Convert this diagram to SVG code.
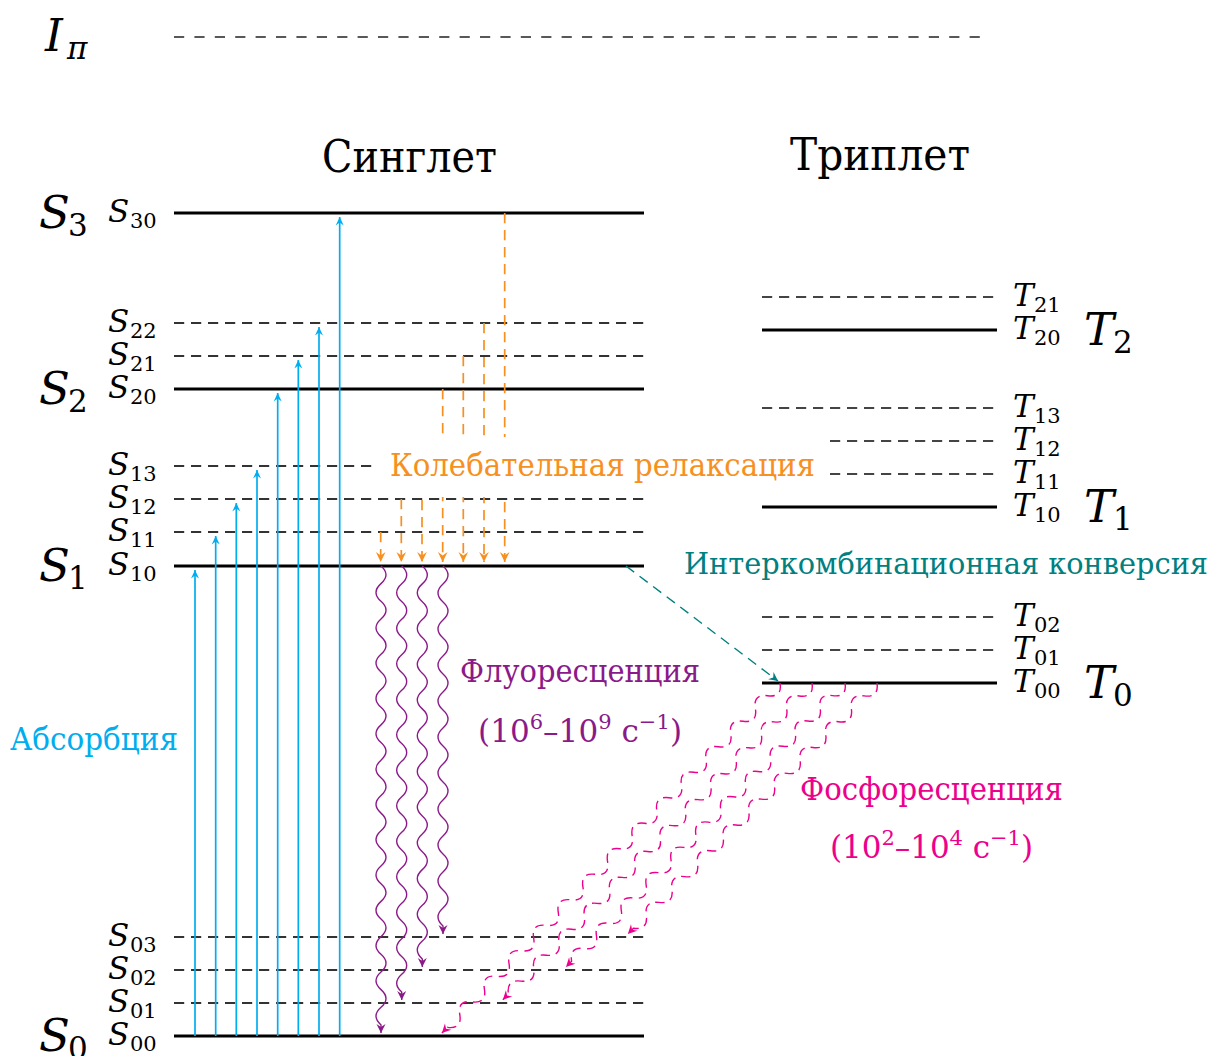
<svg xmlns="http://www.w3.org/2000/svg" width="1214" height="1056" viewBox="0 0 1214 1056" font-family="'DejaVu Serif', serif">
<style>
.tx{font-family:"DejaVu Serif",serif;font-size:31px}
.hd{font-family:"DejaVu Serif",serif;font-size:44px}
.m{font-family:"DejaVu Serif",serif;font-style:italic;font-size:31px}
.sb{font-family:"DejaVu Serif",serif;font-size:21px}
.bg{font-family:"DejaVu Serif",serif;font-style:italic;font-size:45px}
.bs{font-family:"DejaVu Serif",serif;font-size:31px}
.lvl{stroke:#000;stroke-width:3;fill:none}
.sd{stroke:#333;stroke-width:2;stroke-dasharray:10.2 6.8;fill:none}
.td{stroke:#444;stroke-width:1.8;stroke-dasharray:10.2 6.8;fill:none}
.ip{stroke:#222;stroke-width:1.6;stroke-dasharray:10.2 10.2;fill:none}
.cy{stroke:#00AEEF;stroke-width:1.7;fill:none;marker-end:url(#hc)}
.or{stroke:#F7901E;stroke-width:1.7;fill:none;stroke-dasharray:10.2 6.8;marker-end:url(#ho)}
.pu{stroke:#8B1A89;stroke-width:1.4;fill:none;marker-end:url(#hp)}
.pk{stroke:#EC008C;stroke-width:1.4;fill:none;stroke-dasharray:9 6;marker-end:url(#hk)}
.tl{stroke:#008080;stroke-width:1.4;fill:none;stroke-dasharray:10.2 6.8;marker-end:url(#ht)}
</style>
<defs>
<marker id="hc" markerUnits="userSpaceOnUse" orient="auto" refX="0" refY="0" markerWidth="12" markerHeight="12" overflow="visible"><path d="M0,0 L-8.5,-4 L-5.5,0 L-8.5,4 Z" fill="#00AEEF"/></marker>
<marker id="ho" markerUnits="userSpaceOnUse" orient="auto" refX="0" refY="0" markerWidth="12" markerHeight="12" overflow="visible"><path d="M0,0 L-10,-4.8 L-6.5,0 L-10,4.8 Z" fill="#F7901E"/></marker>
<marker id="hp" markerUnits="userSpaceOnUse" orient="auto" refX="0" refY="0" markerWidth="12" markerHeight="12" overflow="visible"><path d="M0,0 L-9,-4.5 L-6,0 L-9,4.5 Z" fill="#8B1A89"/></marker>
<marker id="hk" markerUnits="userSpaceOnUse" orient="auto" refX="0" refY="0" markerWidth="12" markerHeight="12" overflow="visible"><path d="M0,0 L-9,-4.5 L-6,0 L-9,4.5 Z" fill="#EC008C"/></marker>
<marker id="ht" markerUnits="userSpaceOnUse" orient="auto" refX="0" refY="0" markerWidth="12" markerHeight="12" overflow="visible"><path d="M0,0 L-9,-4.5 L-6,0 L-9,4.5 Z" fill="#008080"/></marker>
</defs>
<rect width="1214" height="1056" fill="#fff"/>

<g id="Ipi">
<line class="ip" x1="174" y1="37" x2="990" y2="37"/>
<text class="bg" x="45" y="51">I</text><text class="bs" x="67" y="59" font-style="italic">π</text>
</g>

<g id="headers">
<text class="hd" x="322" y="172" textLength="175" lengthAdjust="spacingAndGlyphs">Синглет</text>
<text class="hd" x="790" y="170" textLength="180" lengthAdjust="spacingAndGlyphs">Триплет</text>
</g>

<g id="S30"><line class="lvl" x1="174" y1="213" x2="644" y2="213"/><text class="m" x="108" y="222">S</text><text class="sb" x="130" y="228">30</text><text class="bg" x="39" y="228">S</text><text class="bs" x="68" y="236">3</text></g>
<g id="S22"><line class="sd" x1="174" y1="323" x2="644" y2="323"/><text class="m" x="108" y="332">S</text><text class="sb" x="130" y="338">22</text></g>
<g id="S21"><line class="sd" x1="174" y1="356" x2="644" y2="356"/><text class="m" x="108" y="365">S</text><text class="sb" x="130" y="371">21</text></g>
<g id="S20"><line class="lvl" x1="174" y1="389" x2="644" y2="389"/><text class="m" x="108" y="398">S</text><text class="sb" x="130" y="404">20</text><text class="bg" x="39" y="404">S</text><text class="bs" x="68" y="412">2</text></g>
<g id="S13"><line class="sd" x1="174" y1="466" x2="644" y2="466"/><text class="m" x="108" y="475">S</text><text class="sb" x="130" y="481">13</text></g>
<g id="S12"><line class="sd" x1="174" y1="499" x2="644" y2="499"/><text class="m" x="108" y="508">S</text><text class="sb" x="130" y="514">12</text></g>
<g id="S11"><line class="sd" x1="174" y1="532" x2="644" y2="532"/><text class="m" x="108" y="541">S</text><text class="sb" x="130" y="547">11</text></g>
<g id="S10"><line class="lvl" x1="174" y1="566" x2="644" y2="566"/><text class="m" x="108" y="575">S</text><text class="sb" x="130" y="581">10</text><text class="bg" x="39" y="581">S</text><text class="bs" x="68" y="589">1</text></g>
<g id="S03"><line class="sd" x1="174" y1="937" x2="644" y2="937"/><text class="m" x="108" y="946">S</text><text class="sb" x="130" y="952">03</text></g>
<g id="S02"><line class="sd" x1="174" y1="970" x2="644" y2="970"/><text class="m" x="108" y="979">S</text><text class="sb" x="130" y="985">02</text></g>
<g id="S01"><line class="sd" x1="174" y1="1003" x2="644" y2="1003"/><text class="m" x="108" y="1012">S</text><text class="sb" x="130" y="1018">01</text></g>
<g id="S00"><line class="lvl" x1="174" y1="1036" x2="644" y2="1036"/><text class="m" x="108" y="1045">S</text><text class="sb" x="130" y="1051">00</text><text class="bg" x="39" y="1051">S</text><text class="bs" x="68" y="1059">0</text></g>

<g id="T21"><line class="td" x1="762" y1="297" x2="997" y2="297"/><text class="m" x="1013" y="306">T</text><text class="sb" x="1034" y="312">21</text></g>
<g id="T20"><line class="lvl" x1="762" y1="330" x2="997" y2="330"/><text class="m" x="1013" y="339">T</text><text class="sb" x="1034" y="345">20</text><text class="bg" x="1084" y="345">T</text><text class="bs" x="1113" y="353">2</text></g>
<g id="T13"><line class="td" x1="762" y1="408" x2="997" y2="408"/><text class="m" x="1013" y="417">T</text><text class="sb" x="1034" y="423">13</text></g>
<g id="T12"><line class="td" x1="830" y1="441" x2="997" y2="441"/><text class="m" x="1013" y="450">T</text><text class="sb" x="1034" y="456">12</text></g>
<g id="T11"><line class="td" x1="830" y1="474" x2="997" y2="474"/><text class="m" x="1013" y="483">T</text><text class="sb" x="1034" y="489">11</text></g>
<g id="T10"><line class="lvl" x1="762" y1="507" x2="997" y2="507"/><text class="m" x="1013" y="516">T</text><text class="sb" x="1034" y="522">10</text><text class="bg" x="1084" y="522">T</text><text class="bs" x="1113" y="530">1</text></g>
<g id="T02"><line class="td" x1="762" y1="617" x2="997" y2="617"/><text class="m" x="1013" y="626">T</text><text class="sb" x="1034" y="632">02</text></g>
<g id="T01"><line class="td" x1="762" y1="650" x2="997" y2="650"/><text class="m" x="1013" y="659">T</text><text class="sb" x="1034" y="665">01</text></g>
<g id="T00"><line class="lvl" x1="762" y1="683" x2="997" y2="683"/><text class="m" x="1013" y="692">T</text><text class="sb" x="1034" y="698">00</text><text class="bg" x="1084" y="698">T</text><text class="bs" x="1113" y="706">0</text></g>

<g id="connectors">
<line class="cy" x1="195" y1="1036" x2="195" y2="570"/>
<line class="cy" x1="215.7" y1="1036" x2="215.7" y2="536"/>
<line class="cy" x1="236.3" y1="1036" x2="236.3" y2="503"/>
<line class="cy" x1="257" y1="1036" x2="257" y2="470"/>
<line class="cy" x1="277.7" y1="1036" x2="277.7" y2="393"/>
<line class="cy" x1="298.3" y1="1036" x2="298.3" y2="360"/>
<line class="cy" x1="319" y1="1036" x2="319" y2="327"/>
<line class="cy" x1="339.7" y1="1036" x2="339.7" y2="217"/>

<line class="or" x1="380.7" y1="532" x2="380.7" y2="562"/>
<line class="or" x1="401.3" y1="499" x2="401.3" y2="562"/>
<line class="or" x1="422" y1="466" x2="422" y2="562"/>
<line class="or" x1="442.7" y1="389" x2="442.7" y2="562"/>
<line class="or" x1="463.3" y1="356" x2="463.3" y2="562"/>
<line class="or" x1="484" y1="323" x2="484" y2="562"/>
<line class="or" x1="504.7" y1="213" x2="504.7" y2="562"/>

<path class="pu" d="M381,566c6.67,5.88 6.67,11.77 0,17.65s-6.67,11.77 0,17.65s6.67,11.77 0,17.65s-6.67,11.77 0,17.65s6.67,11.77 0,17.65s-6.67,11.77 0,17.65s6.67,11.77 0,17.65s-6.67,11.77 0,17.65s6.67,11.77 0,17.65s-6.67,11.77 0,17.65s6.67,11.77 0,17.65s-6.67,11.77 0,17.65s6.67,11.77 0,17.65s-6.67,11.77 0,17.65s6.67,11.77 0,17.65s-6.67,11.77 0,17.65s6.67,11.77 0,17.65s-6.67,11.77 0,17.65s6.67,11.77 0,17.65s-6.67,11.77 0,17.65s6.67,11.77 0,17.65s-6.67,11.77 0,17.65s6.67,11.77 0,17.65s-6.67,11.77 0,17.65s6.67,11.77 0,17.65s-6.67,11.77 0,17.65l0,8"/>
<path class="pu" d="M401.7,566c6.67,5.92 6.67,11.83 0,17.75s-6.67,11.83 0,17.75s6.67,11.83 0,17.75s-6.67,11.83 0,17.75s6.67,11.83 0,17.75s-6.67,11.83 0,17.75s6.67,11.83 0,17.75s-6.67,11.83 0,17.75s6.67,11.83 0,17.75s-6.67,11.83 0,17.75s6.67,11.83 0,17.75s-6.67,11.83 0,17.75s6.67,11.83 0,17.75s-6.67,11.83 0,17.75s6.67,11.83 0,17.75s-6.67,11.83 0,17.75s6.67,11.83 0,17.75s-6.67,11.83 0,17.75s6.67,11.83 0,17.75s-6.67,11.83 0,17.75s6.67,11.83 0,17.75s-6.67,11.83 0,17.75s6.67,11.83 0,17.75s-6.67,11.83 0,17.75l0,8"/>
<path class="pu" d="M422.3,566c6.67,5.95 6.67,11.91 0,17.86s-6.67,11.91 0,17.86s6.67,11.91 0,17.86s-6.67,11.91 0,17.86s6.67,11.91 0,17.86s-6.67,11.91 0,17.86s6.67,11.91 0,17.86s-6.67,11.91 0,17.86s6.67,11.91 0,17.86s-6.67,11.91 0,17.86s6.67,11.91 0,17.86s-6.67,11.91 0,17.86s6.67,11.91 0,17.86s-6.67,11.91 0,17.86s6.67,11.91 0,17.86s-6.67,11.91 0,17.86s6.67,11.91 0,17.86s-6.67,11.91 0,17.86s6.67,11.91 0,17.86s-6.67,11.91 0,17.86s6.67,11.91 0,17.86s-6.67,11.91 0,17.86l0,8"/>
<path class="pu" d="M443,566c6.67,6 6.67,12 0,18s-6.67,12 0,18s6.67,12 0,18s-6.67,12 0,18s6.67,12 0,18s-6.67,12 0,18s6.67,12 0,18s-6.67,12 0,18s6.67,12 0,18s-6.67,12 0,18s6.67,12 0,18s-6.67,12 0,18s6.67,12 0,18s-6.67,12 0,18s6.67,12 0,18s-6.67,12 0,18s6.67,12 0,18s-6.67,12 0,18s6.67,12 0,18s-6.67,12 0,18l0,8"/>

<line class="tl" x1="626" y1="566" x2="778" y2="681"/>

<path class="pk" transform="translate(780,683) rotate(134)" d="M0,0c5.91,-8 11.82,-8 17.73,0s11.82,8 17.73,0s11.82,-8 17.73,0s11.82,8 17.73,0s11.82,-8 17.73,0s11.82,8 17.73,0s11.82,-8 17.73,0s11.82,8 17.73,0s11.82,-8 17.73,0s11.82,8 17.73,0s11.82,-8 17.73,0s11.82,8 17.73,0s11.82,-8 17.73,0s11.82,8 17.73,0s11.82,-8 17.73,0s11.82,8 17.73,0s11.82,-8 17.73,0s11.82,8 17.73,0s11.82,-8 17.73,0s11.82,8 17.73,0s11.82,-8 17.73,0s11.82,8 17.73,0s11.82,-8 17.73,0s11.82,8 17.73,0s11.82,-8 17.73,0s11.82,8 17.73,0s11.82,-8 17.73,0l8,0"/>
<path class="pk" transform="translate(812,683) rotate(134.3)" d="M0,0c6.04,-8 12.08,-8 18.11,0s12.08,8 18.11,0s12.08,-8 18.11,0s12.08,8 18.11,0s12.08,-8 18.11,0s12.08,8 18.11,0s12.08,-8 18.11,0s12.08,8 18.11,0s12.08,-8 18.11,0s12.08,8 18.11,0s12.08,-8 18.11,0s12.08,8 18.11,0s12.08,-8 18.11,0s12.08,8 18.11,0s12.08,-8 18.11,0s12.08,8 18.11,0s12.08,-8 18.11,0s12.08,8 18.11,0s12.08,-8 18.11,0s12.08,8 18.11,0s12.08,-8 18.11,0s12.08,8 18.11,0s12.08,-8 18.11,0s12.08,8 18.11,0l8,0"/>
<path class="pk" transform="translate(845,683) rotate(134.5)" d="M0,0c5.91,-8 11.82,-8 17.73,0s11.82,8 17.73,0s11.82,-8 17.73,0s11.82,8 17.73,0s11.82,-8 17.73,0s11.82,8 17.73,0s11.82,-8 17.73,0s11.82,8 17.73,0s11.82,-8 17.73,0s11.82,8 17.73,0s11.82,-8 17.73,0s11.82,8 17.73,0s11.82,-8 17.73,0s11.82,8 17.73,0s11.82,-8 17.73,0s11.82,8 17.73,0s11.82,-8 17.73,0s11.82,8 17.73,0s11.82,-8 17.73,0s11.82,8 17.73,0s11.82,-8 17.73,0s11.82,8 17.73,0l8,0"/>
<path class="pk" transform="translate(877,683) rotate(134.8)" d="M0,0c6.06,-8 12.13,-8 18.19,0s12.13,8 18.19,0s12.13,-8 18.19,0s12.13,8 18.19,0s12.13,-8 18.19,0s12.13,8 18.19,0s12.13,-8 18.19,0s12.13,8 18.19,0s12.13,-8 18.19,0s12.13,8 18.19,0s12.13,-8 18.19,0s12.13,8 18.19,0s12.13,-8 18.19,0s12.13,8 18.19,0s12.13,-8 18.19,0s12.13,8 18.19,0s12.13,-8 18.19,0s12.13,8 18.19,0s12.13,-8 18.19,0l8,0"/>
</g>

<g id="label-vib">
<rect x="376" y="437" width="444" height="60" fill="#fff"/>
<text class="tx" x="390" y="476" fill="#F7901E" textLength="425" lengthAdjust="spacingAndGlyphs">Колебательная релаксация</text>
</g>
<g id="label-isc"><text class="tx" x="684" y="574" fill="#008080" style="font-size:29px" textLength="524" lengthAdjust="spacingAndGlyphs">Интеркомбинационная конверсия</text></g>
<g id="label-abs"><text class="tx" x="10" y="750" fill="#00AEEF" textLength="168" lengthAdjust="spacingAndGlyphs">Абсорбция</text></g>
<g id="label-fl">
<text class="tx" x="460" y="682" fill="#8B1A89" textLength="240" lengthAdjust="spacingAndGlyphs">Флуоресценция</text>
<text class="tx" x="478" y="742" fill="#8B1A89" textLength="204" lengthAdjust="spacing">(10<tspan dy="-13" font-size="21">6</tspan><tspan dy="13">–10</tspan><tspan dy="-13" font-size="21">9</tspan><tspan dy="13"> с</tspan><tspan dy="-13" font-size="21">−1</tspan><tspan dy="13">)</tspan></text>
</g>
<g id="label-ph">
<text class="tx" x="800" y="800" fill="#EC008C" textLength="263" lengthAdjust="spacingAndGlyphs">Фосфоресценция</text>
<text class="tx" x="830" y="858" fill="#EC008C" textLength="203" lengthAdjust="spacing">(10<tspan dy="-13" font-size="21">2</tspan><tspan dy="13">–10</tspan><tspan dy="-13" font-size="21">4</tspan><tspan dy="13"> с</tspan><tspan dy="-13" font-size="21">−1</tspan><tspan dy="13">)</tspan></text>
</g>
</svg>
